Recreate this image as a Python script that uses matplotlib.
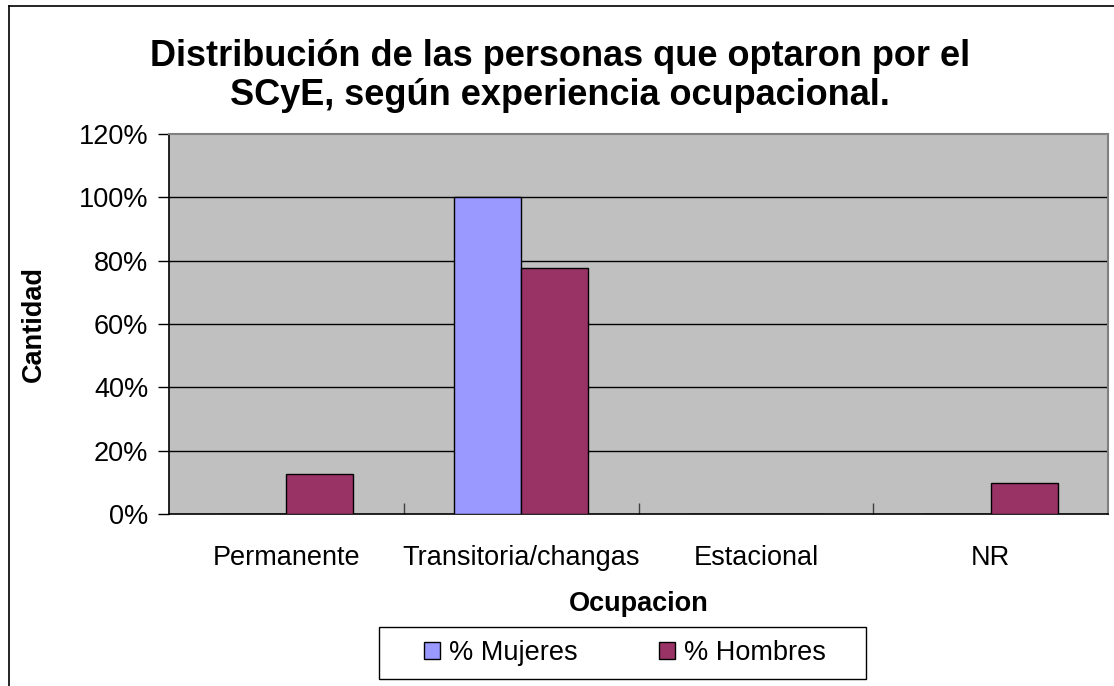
import matplotlib
matplotlib.use("Agg")
import matplotlib.pyplot as plt
from matplotlib.lines import Line2D
from matplotlib.patches import Rectangle
from matplotlib.ticker import FuncFormatter, FixedLocator

categories = ["Permanente", "Transitoria/changas", "Estacional", "NR"]
mujeres = [0.0, 100.0, 0.0, 0.0]
hombres = [12.5, 77.7, 0.0, 9.7]
series_names = ["% Mujeres", "% Hombres"]
yticks = [0, 20, 40, 60, 80, 100, 120]

plt.rcParams['font.family'] = ['Liberation Sans', 'DejaVu Sans']

FS = 19.5
W, H = 1114, 686
fig = plt.figure(figsize=(W / 100, H / 100), dpi=100)
ax = fig.add_axes([169 / W, (H - 514) / H, 939 / W, 380 / H])
ax.set_facecolor("#C0C0C0")

bw = 1 / 3.5
x = list(range(len(categories)))
ax.bar([i - bw / 2 for i in x], mujeres, width=bw, color="#9999FF",
       edgecolor="black", linewidth=1, label=series_names[0], zorder=3)
ax.bar([i + bw / 2 for i in x], hombres, width=bw, color="#993366",
       edgecolor="black", linewidth=1, label=series_names[1], zorder=3)

ax.set_xlim(-0.5, len(categories) - 0.5)
ax.set_ylim(0, 120)
ax.set_yticks(yticks)
ax.yaxis.set_major_formatter(FuncFormatter(lambda v, p: f"{int(v)}%"))
ax.tick_params(axis="y", direction="out", length=8, width=1, labelsize=FS, pad=7)
for y in yticks[1:-1]:
    ax.axhline(y, color="black", linewidth=1, zorder=1)

ax.set_xticks(x)
ax.set_xticklabels(categories, fontsize=FS)
ax.tick_params(axis="x", which="major", length=0, pad=22)
ax.xaxis.set_minor_locator(FixedLocator([0.5, 1.5, 2.5]))
ax.tick_params(axis="x", which="minor", direction="in", length=8, width=1, color="#404040")

for s in ["top", "right"]:
    ax.spines[s].set_color("#808080")
    ax.spines[s].set_linewidth(1.5)
for s in ["left", "bottom"]:
    ax.spines[s].set_color("black")
    ax.spines[s].set_linewidth(1.2)

ax.set_xlabel("Ocupacion", fontsize=FS, fontweight="bold")
ax.xaxis.set_label_coords(0.5, -(604 - 514) / 380)
ax.xaxis.label.set_va("center")
ax.set_ylabel("Cantidad", fontsize=FS, fontweight="bold")
ax.yaxis.set_label_coords(-(169 - 34) / 939, 0.5)
ax.yaxis.label.set_va("center")

fig.text(560 / W, 1 - 76 / H,
         "Distribución de las personas que optaron por el\nSCyE, según experiencia ocupacional.",
         ha="center", va="center", fontsize=26, fontweight="bold", linespacing=1.14)

# legend box (Excel-style wide padding)
fig.add_artist(Rectangle((379 / W, 1 - 679 / H), (866 - 379) / W, (679 - 627) / H,
                         transform=fig.transFigure, facecolor="white",
                         edgecolor="black", linewidth=1, zorder=4))
leg = fig.legend(loc="center", bbox_to_anchor=(625 / W, 1 - 653 / H), ncol=2,
                 fontsize=FS, frameon=False,
                 handlelength=0.6, handleheight=0.6, handletextpad=0.33,
                 columnspacing=3.0, borderpad=0.0)
leg.set_zorder(5)

# figure border
fig.add_artist(Line2D([9 / W, 9 / W], [0, 1 - 6 / H], color="black", linewidth=1.2))
fig.add_artist(Line2D([9 / W, 1], [1 - 6 / H, 1 - 6 / H], color="black", linewidth=1.2))

fig.savefig("out.png", dpi=100)
